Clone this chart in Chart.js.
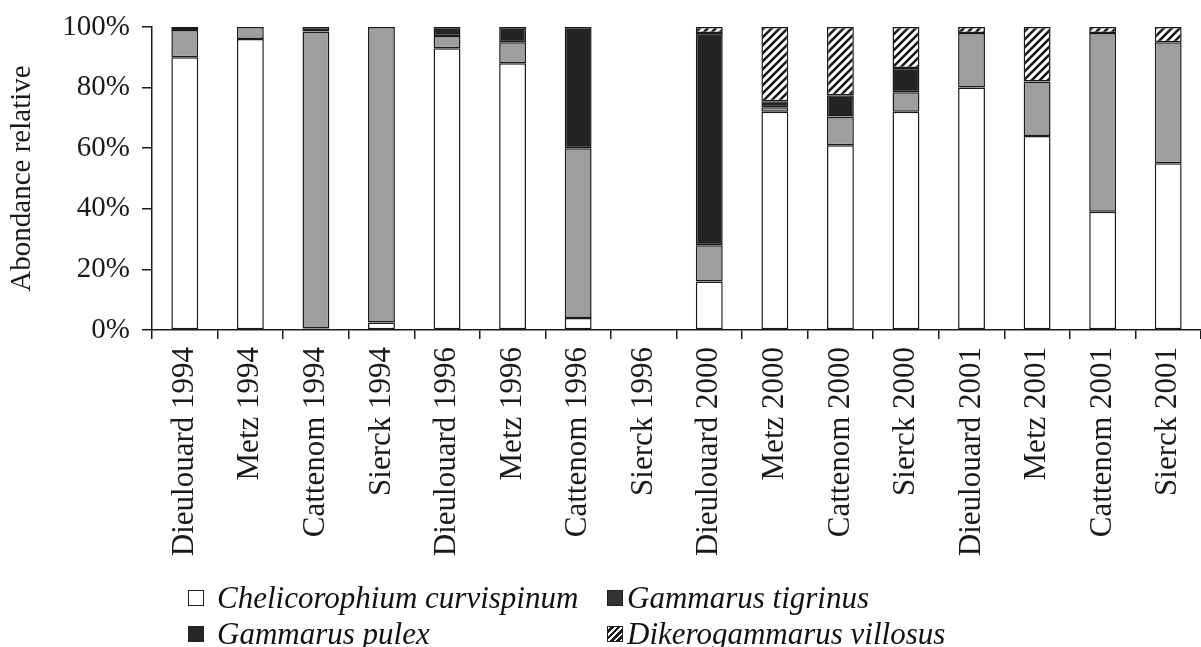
<!DOCTYPE html>
<html>
<head>
<meta charset="utf-8">
<script src="https://cdn.jsdelivr.net/npm/chart.js@4.4.1/dist/chart.umd.min.js"></script>
<style>
  html, body { margin: 0; padding: 0; background: #fff; }
  #wrap { position: relative; width: 1201px; height: 647px; }
  #c { position: absolute; left: 0; top: 0; }
  .lg { position: absolute; font-family: "Liberation Serif", "Times New Roman", serif; font-style: italic; font-size: 31px; line-height: 31px; color: #111; white-space: nowrap; }
  .bx { position: absolute; width: 16px; height: 16px; box-sizing: border-box; border: 1.5px solid #222; }
</style>
</head>
<body>
<div id="wrap">
  <canvas id="c" width="1201" height="647"></canvas>
  <div id="legend"></div>
</div>
<script>
const categories = ["Dieulouard 1994","Metz 1994","Cattenom 1994","Sierck 1994","Dieulouard 1996","Metz 1996","Cattenom 1996","Sierck 1996","Dieulouard 2000","Metz 2000","Cattenom 2000","Sierck 2000","Dieulouard 2001","Metz 2001","Cattenom 2001","Sierck 2001"];
const curvispinum = [90, 96, 0.5, 2.5, 93, 88, 4, 0, 16, 72, 61, 72, 80, 64, 39, 55];
const tigrinus    = [9, 4, 98, 97.5, 4, 7, 56, 0, 12, 1.5, 9.5, 6.5, 18, 18, 59, 40];
const pulex       = [1, 0, 1.5, 0, 3, 5, 40, 0, 70, 2, 7, 8, 0, 0, 0, 0];
const villosus    = [0, 0, 0, 0, 0, 0, 0, 0, 2, 24.5, 22.5, 13.5, 2, 18, 2, 5];
const seriesNames = ["Chelicorophium curvispinum", "Gammarus tigrinus", "Gammarus pulex", "Dikerogammarus villosus"];
const yTicks = [0, 20, 40, 60, 80, 100];

function hatch() {
  const s = 8;
  const cv = document.createElement('canvas');
  cv.width = s; cv.height = s;
  const g = cv.getContext('2d');
  g.fillStyle = '#fff'; g.fillRect(0, 0, s, s);
  g.strokeStyle = '#1a1a1a'; g.lineWidth = 2.6;
  g.beginPath();
  g.moveTo(-2, s + 2); g.lineTo(s + 2, -2);
  g.moveTo(-2, 2); g.lineTo(2, -2);
  g.moveTo(s - 2, s + 2); g.lineTo(s + 2, s - 2);
  g.stroke();
  return g.createPattern(cv, 'repeat');
}

const ctx = document.getElementById('c').getContext('2d');
const nz = a => a.map(v => v === 0 ? null : v);
const fills = ['#ffffff', '#9e9e9e', '#242424', hatch()];
const dataArr = [curvispinum, tigrinus, pulex, villosus];
const font = { family: '"Liberation Serif", "Times New Roman", serif', size: 29 };
const xfont = { family: '"Liberation Serif", "Times New Roman", serif', size: 31 };

new Chart(ctx, {
  type: 'bar',
  data: {
    labels: categories,
    datasets: dataArr.map((d, i) => ({
      label: seriesNames[i],
      data: nz(d),
      backgroundColor: fills[i],
      borderColor: '#1a1a1a',
      borderWidth: 1.5,
      borderSkipped: false,
      barPercentage: 0.41,
      categoryPercentage: 1.0
    }))
  },
  options: {
    responsive: false,
    animation: false,
    layout: { padding: { top: 27, right: 0, left: 0, bottom: 0 } },
    plugins: { legend: { display: false }, tooltip: { enabled: false } },
    scales: {
      x: {
        stacked: true,
        grid: { display: true, offset: true, drawOnChartArea: false, drawTicks: true, tickLength: 9, color: '#1a1a1a', lineWidth: 1.5 },
        border: { display: true, color: '#1a1a1a', width: 1.5 },
        ticks: { color: '#1a1a1a', font: xfont, maxRotation: 90, minRotation: 90, padding: 8, autoSkip: false },
        afterFit: s => { s.height = 317; s.paddingLeft = 0; s.paddingRight = 0; }
      },
      y: {
        stacked: true,
        min: 0, max: 100,
        afterBuildTicks: s => { s.ticks = yTicks.map(v => ({ value: v })); },
        grid: { display: true, drawOnChartArea: false, drawTicks: true, tickLength: 10, color: '#1a1a1a', lineWidth: 1.5 },
        border: { display: true, color: '#1a1a1a', width: 1.5 },
        ticks: { color: '#1a1a1a', font: font, padding: 12, callback: v => v + '%' },
        title: { display: true, text: 'Abondance relative', color: '#1a1a1a', font: font, padding: { top: 5, bottom: 0 } },
        afterFit: s => { s.width = 152; s.paddingTop = 0; s.paddingBottom = 0; }
      }
    }
  }
});

// HTML legend in two columns
const legend = document.getElementById('legend');
const pos = [
  { bx: 188, by: 590, tx: 217, ty: 582 },
  { bx: 607, by: 590, tx: 627, ty: 582 },
  { bx: 188, by: 626, tx: 217, ty: 618 },
  { bx: 607, by: 626, tx: 627, ty: 618 }
];
const legendFills = ['#ffffff', '#333333', '#262626', null];
seriesNames.forEach((n, i) => {
  const b = document.createElement('div');
  b.className = 'bx';
  b.style.left = pos[i].bx + 'px'; b.style.top = pos[i].by + 'px';
  if (legendFills[i]) b.style.background = legendFills[i];
  else b.style.background = 'repeating-linear-gradient(135deg, #fff 0 2px, #1a1a1a 2px 4.5px)';
  legend.appendChild(b);
  const t = document.createElement('div');
  t.className = 'lg';
  t.style.left = pos[i].tx + 'px'; t.style.top = pos[i].ty + 'px';
  t.textContent = n;
  legend.appendChild(t);
});
</script>
</body>
</html>
